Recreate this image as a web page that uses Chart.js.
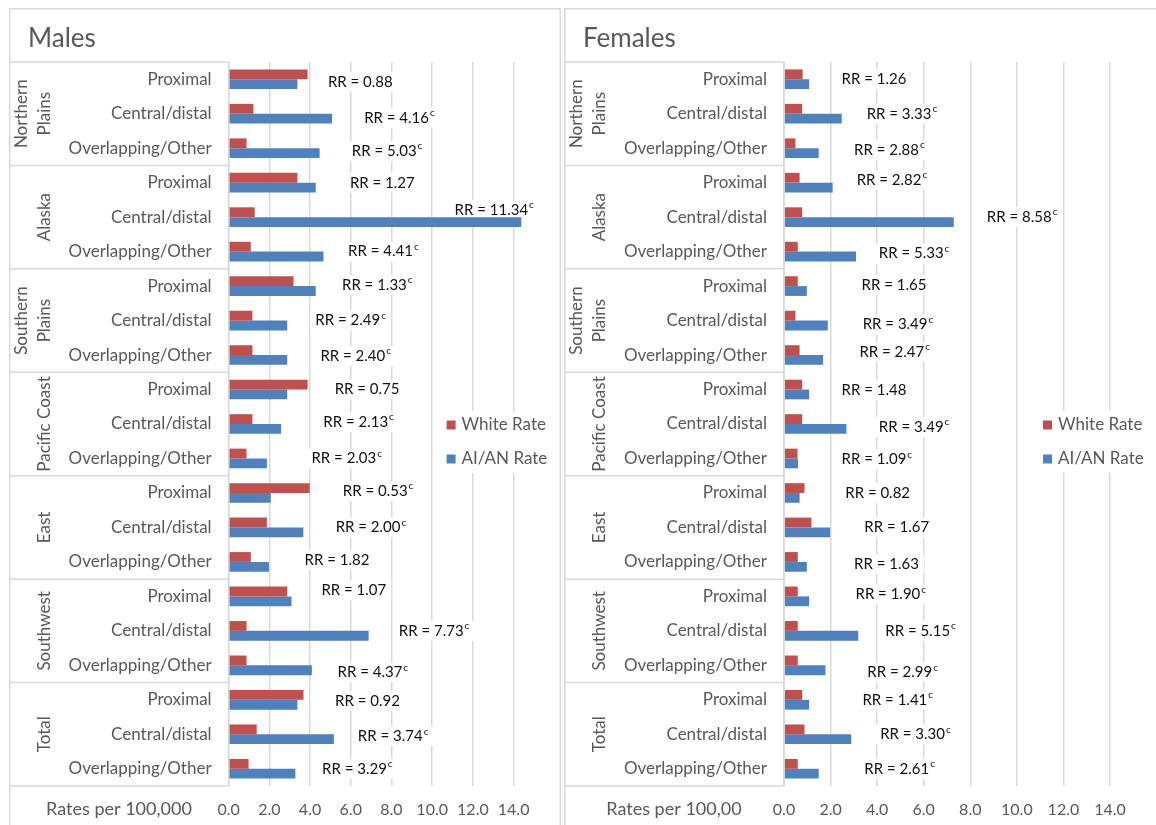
<!DOCTYPE html>
<html>
<head>
<meta charset="utf-8">
<script src="https://cdn.jsdelivr.net/npm/chart.js@4.4.1/dist/chart.umd.min.js"></script>
<style>
  html, body { margin: 0; padding: 0; background: #fff; width: 1156px; height: 825px; overflow: hidden; }
  .panel { position: absolute; top: 8px; height: 817px; }
  #malesBox { left: 9px; width: 552px; }
  #femalesBox { left: 564px; width: 592px; }
  canvas { display: block; }
</style>
</head>
<body>
<div class="panel" id="malesBox"><canvas id="males"></canvas></div>
<div class="panel" id="femalesBox"><canvas id="females"></canvas></div>
<script>
// ---- Data -------------------------------------------------------------
const regions = [["Northern", "Plains"], ["Alaska"], ["Southern", "Plains"], ["Pacific Coast"], ["East"], ["Southwest"], ["Total"]];
const subsites = ["Proximal", "Central/distal", "Overlapping/Other"];
const rowLabels = regions.flatMap(() => subsites);
const xTicks = [0, 2, 4, 6, 8, 10, 12, 14];

// Incidence rates per 100,000 (one entry per region x subsite row)
const maleWhite = [3.88, 1.22, 0.88, 3.38, 1.28, 1.09, 3.19, 1.17, 1.17, 3.88, 1.17, 0.88, 3.98, 1.88, 1.09, 2.88, 0.88, 0.88, 3.68, 1.38, 0.98];
const maleAIAN  = [3.38, 5.08, 4.47, 4.28, 14.38, 4.66, 4.28, 2.88, 2.88, 2.88, 2.58, 1.88, 2.07, 3.67, 1.98, 3.09, 6.88, 4.09, 3.38, 5.17, 3.28];
const maleRR    = [0.88, 4.16, 5.03, 1.27, 11.34, 4.41, 1.33, 2.49, 2.40, 0.75, 2.13, 2.03, 0.53, 2.00, 1.82, 1.07, 7.73, 4.37, 0.92, 3.74, 3.29];
const maleSig   = [false, true, true, false, true, true, true, true, true, false, true, true, true, true, false, false, true, true, false, true, true];

const femaleWhite = [0.80, 0.78, 0.49, 0.67, 0.78, 0.59, 0.59, 0.49, 0.67, 0.78, 0.78, 0.58, 0.88, 1.18, 0.59, 0.59, 0.59, 0.59, 0.78, 0.88, 0.59];
const femaleAIAN  = [1.08, 2.48, 1.49, 2.09, 7.29, 3.09, 0.98, 1.88, 1.68, 1.08, 2.68, 0.60, 0.67, 1.98, 0.98, 1.08, 3.19, 1.78, 1.08, 2.89, 1.49];
const femaleRR    = [1.26, 3.33, 2.88, 2.82, 8.58, 5.33, 1.65, 3.49, 2.47, 1.48, 3.49, 1.09, 0.82, 1.67, 1.63, 1.90, 5.15, 2.99, 1.41, 3.30, 2.61];
const femaleSig   = [false, true, true, true, true, true, false, true, true, false, true, true, false, false, false, true, true, true, true, true, true];

// ---- Placement of the rate-ratio notes (x anchor in axis units, vertical nudge in px)
const maleNoteX   = [4.88, 6.66, 6.05, 5.96, 11.10, 5.87, 5.57, 4.26, 4.51, 5.21, 4.65, 4.07, 5.61, 5.26, 3.73, 4.56, 8.36, 5.35, 5.23, 6.35, 4.59];
const maleNoteDy  = [3, 4, 3, 0, -7, 0, -1, 0, 1, 0, -2, 0, -2, 0, -2, -6, 0, 7, 1, 2, 0];
const femaleNoteX  = [2.47, 3.55, 3.01, 3.12, 8.71, 4.07, 3.33, 3.38, 3.24, 2.47, 4.07, 2.47, 2.63, 3.45, 3.01, 3.07, 4.35, 3.58, 3.37, 4.13, 3.45];
const femaleNoteDy = [0, 0, 2, -3, 0, 2, -1, 4, -3, 1, 3, 1, 0, 0, 2, -2, 0, 7, 0, 0, 0];

// ---- Styling ------------------------------------------------------------
const FONT = 'Lato, "Open Sans", sans-serif';
const GREY_TEXT = '#595959';
const RULE = '#d9d9d9';
const WHITE_COLOR = '#C0504D';
const AIAN_COLOR = '#4F81BD';
const NOTE_FONT = '15px ' + FONT;
const SUP_FONT = '10px ' + FONT;

function noteParts(ctx, o, i) {
  ctx.font = NOTE_FONT;
  const main = 'RR = ' + o.rr[i].toFixed(2);
  const w = ctx.measureText(main).width;
  ctx.font = SUP_FONT;
  const sw = o.sig[i] ? ctx.measureText('c').width + 1 : 0;
  return { main, w, sw };
}

function legendGeom(chart) {
  const a = chart.chartArea;
  return { x: a.right - 67, y: a.top + 363, gap: 34 };
}

const panelDecor = {
  id: 'panelDecor',
  beforeDatasetsDraw(chart, args, o) {
    const ctx = chart.ctx, xs = chart.scales.x, ys = chart.scales.y;
    ctx.save();
    ctx.fillStyle = '#ffffff';
    o.rr.forEach((v, i) => {
      const p = noteParts(ctx, o, i);
      const x = xs.getPixelForValue(o.noteX[i]);
      const y = ys.getPixelForValue(i) + o.noteDy[i];
      ctx.fillRect(x - 5, y - 10, p.w + p.sw + 10, 20);
    });
    // backing for the legend block
    const lg = legendGeom(chart);
    ctx.font = '17px ' + FONT;
    let lw = 0;
    chart.data.datasets.forEach(ds => { lw = Math.max(lw, ctx.measureText(ds.label).width); });
    ctx.fillRect(lg.x - 6, lg.y - 14, lw + 15 + 12, lg.gap + 28);
    ctx.restore();
  },
  afterDraw(chart, args, o) {
    const ctx = chart.ctx, xs = chart.scales.x, ys = chart.scales.y, a = chart.chartArea;
    const W = chart.width, H = chart.height;
    ctx.save();

    // panel frame
    ctx.strokeStyle = RULE;
    ctx.lineWidth = 1.5;
    ctx.beginPath();
    ctx.moveTo(0.75, H + 2);
    ctx.lineTo(0.75, 0.75);
    ctx.lineTo(W - (o.frameRight ? 0.75 : -2), 0.75);
    if (o.frameRight) ctx.lineTo(W - 0.75, H + 2);
    ctx.stroke();

    // category table: outer box and region separators
    const rowH = (a.bottom - a.top) / rowLabels.length;
    ctx.beginPath();
    ctx.moveTo(0, a.top); ctx.lineTo(a.left, a.top);
    ctx.lineTo(a.left, a.bottom); ctx.lineTo(0, a.bottom);
    for (let g = 1; g < regions.length; g++) {
      const y = a.top + g * 3 * rowH;
      ctx.moveTo(0, y); ctx.lineTo(a.left, y);
    }
    ctx.stroke();

    // subsite labels
    ctx.fillStyle = GREY_TEXT;
    ctx.font = '17px ' + FONT;
    ctx.textAlign = 'right';
    ctx.textBaseline = 'middle';
    rowLabels.forEach((lab, i) => ctx.fillText(lab, a.left - 17, ys.getPixelForValue(i)));

    // region labels, rotated
    ctx.textAlign = 'center';
    regions.forEach((lines, g) => {
      const yc = (ys.getPixelForValue(3 * g) + ys.getPixelForValue(3 * g + 2)) / 2;
      lines.forEach((ln, k) => {
        const x = 36 - 23 * (lines.length - 1 - k);
        ctx.save();
        ctx.translate(x, yc);
        ctx.rotate(-Math.PI / 2);
        ctx.fillText(ln, 0, 0);
        ctx.restore();
      });
    });

    // panel title
    ctx.textAlign = 'left';
    ctx.font = '26px ' + FONT;
    ctx.fillText(o.title, 19, 31);

    // axis caption, left of the tick row
    ctx.textAlign = 'center';
    ctx.font = '18px ' + FONT;
    ctx.fillText(o.axisTitle, 110, 801);

    // rate-ratio notes
    ctx.textAlign = 'left';
    ctx.fillStyle = '#111';
    o.rr.forEach((v, i) => {
      const p = noteParts(ctx, o, i);
      const x = xs.getPixelForValue(o.noteX[i]);
      const y = ys.getPixelForValue(i) + o.noteDy[i];
      ctx.font = NOTE_FONT;
      ctx.fillText(p.main, x, y);
      if (o.sig[i]) {
        ctx.font = SUP_FONT;
        ctx.fillText('c', x + p.w + 1, y - 5);
      }
    });

    // legend
    const lg = legendGeom(chart);
    ctx.font = '17px ' + FONT;
    chart.data.datasets.forEach((ds, k) => {
      const y = lg.y + k * lg.gap;
      ctx.fillStyle = ds.backgroundColor;
      ctx.fillRect(lg.x, y - 4.5, 9, 9);
      ctx.fillStyle = GREY_TEXT;
      ctx.fillText(ds.label, lg.x + 15, y);
    });
    ctx.restore();
  }
};

function makePanel(id, opts) {
  return new Chart(document.getElementById(id), {
    type: 'bar',
    data: {
      labels: rowLabels,
      datasets: [
        { label: 'White Rate', data: opts.white, backgroundColor: WHITE_COLOR, clip: false },
        { label: 'AI/AN Rate', data: opts.aian, backgroundColor: AIAN_COLOR, clip: false }
      ]
    },
    options: {
      indexAxis: 'y',
      responsive: true,
      maintainAspectRatio: false,
      animation: false,
      events: [],
      categoryPercentage: 0.57,
      barPercentage: 1.0,
      layout: { padding: { left: opts.padLeft, right: opts.padRight, top: 54, bottom: 0 } },
      scales: {
        x: {
          min: 0, max: 14,
          afterBuildTicks: s => { s.ticks = xTicks.map(v => ({ value: v })); },
          afterFit: s => { s.height = 39; },
          grid: { color: RULE, lineWidth: 1.5, drawTicks: false },
          border: { display: false },
          ticks: {
            color: GREY_TEXT,
            font: { family: FONT, size: 16 },
            padding: 14,
            callback: v => Number(v).toFixed(1)
          }
        },
        y: { display: false }
      },
      plugins: {
        legend: { display: false },
        tooltip: { enabled: false },
        panelDecor: opts.decor
      }
    },
    plugins: [panelDecor]
  });
}

makePanel('males', {
  white: maleWhite, aian: maleAIAN, padLeft: 219.6, padRight: 47.4,
  decor: { title: 'Males', axisTitle: 'Rates per 100,000', rr: maleRR, sig: maleSig,
           noteX: maleNoteX, noteDy: maleNoteDy, frameRight: true }
});
makePanel('females', {
  white: femaleWhite, aian: femaleAIAN, padLeft: 220, padRight: 46,
  decor: { title: 'Females', axisTitle: 'Rates per 100,00', rr: femaleRR, sig: femaleSig,
           noteX: femaleNoteX, noteDy: femaleNoteDy, frameRight: false }
});
</script>
</body>
</html>
